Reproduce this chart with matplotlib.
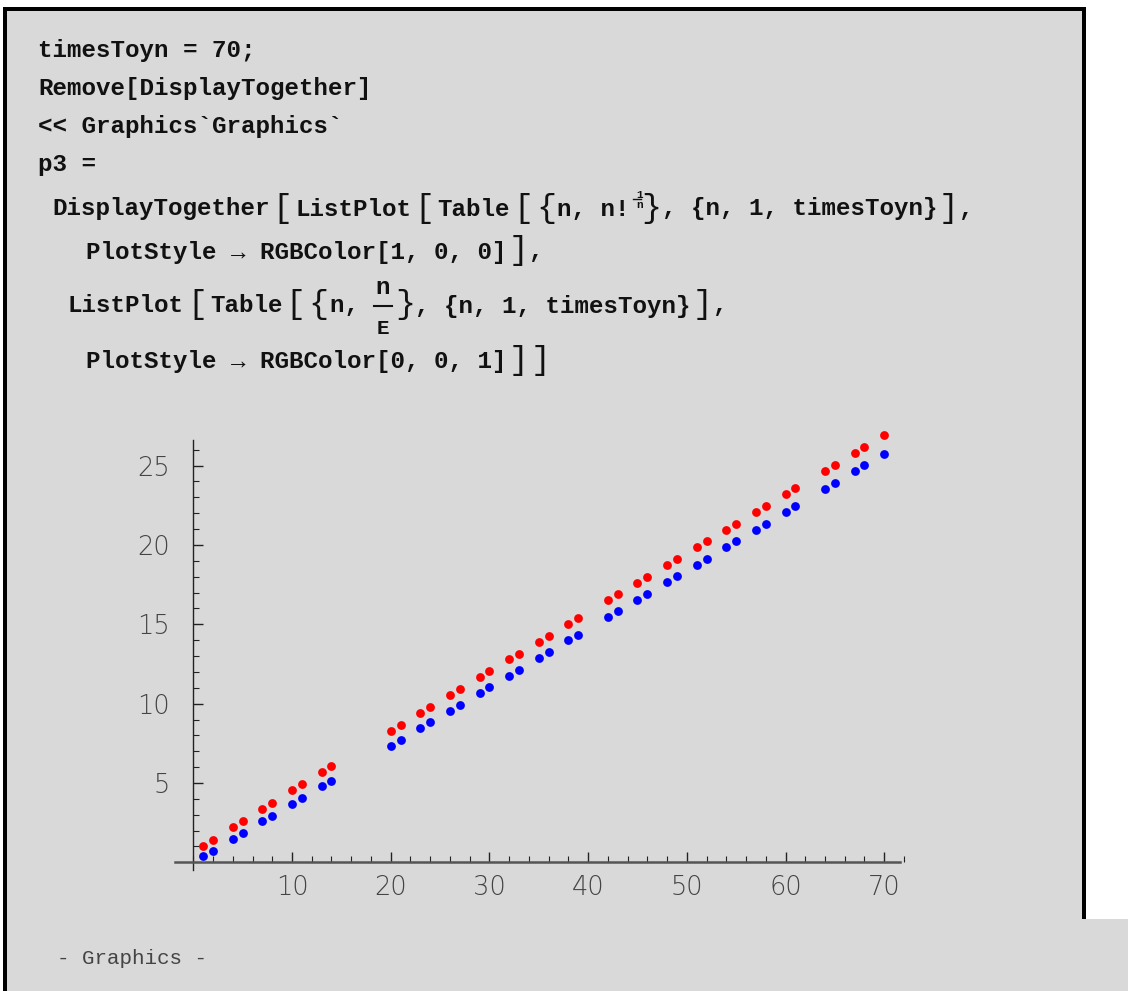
import matplotlib
matplotlib.use('Agg')
import matplotlib.pyplot as plt
from matplotlib.patches import Rectangle
from matplotlib.lines import Line2D
from matplotlib.ticker import FixedLocator, MultipleLocator

# ---------------- data ----------------
n_vals = [1, 2, 4, 5, 7, 8, 10, 11, 13, 14, 20, 21, 23, 24, 26, 27, 29, 30, 32, 33,
          35, 36, 38, 39, 42, 43, 45, 46, 48, 49, 51, 52, 54, 55, 57, 58, 60, 61,
          64, 65, 67, 68, 70]
red_vals = [1.00, 1.41, 2.21, 2.61, 3.38, 3.76, 4.53, 4.91, 5.67, 6.05,
            8.30, 8.68, 9.43, 9.80, 10.55, 10.93, 11.67, 12.05, 12.79, 13.16,
            13.91, 14.28, 15.03, 15.40, 16.51, 16.89, 17.63, 18.00, 18.74, 19.11,
            19.86, 20.23, 20.97, 21.34, 22.08, 22.45, 23.19, 23.56, 24.67, 25.04,
            25.78, 26.16, 26.90]
blue_vals = [0.37, 0.74, 1.47, 1.84, 2.58, 2.94, 3.68, 4.05, 4.78, 5.15,
             7.36, 7.73, 8.46, 8.83, 9.56, 9.93, 10.67, 11.04, 11.77, 12.14,
             12.88, 13.24, 13.98, 14.35, 15.45, 15.82, 16.55, 16.92, 17.66, 18.03,
             18.76, 19.13, 19.87, 20.23, 20.97, 21.34, 22.07, 22.44, 23.54, 23.91,
             24.65, 25.02, 25.75]
x_ticks = [10, 20, 30, 40, 50, 60, 70]
y_ticks = [5, 10, 15, 20, 25]

W, H = 1128, 991
GRAY = '#d9d9d9'
INK = '#111111'
CODE = ['Liberation Mono', 'DejaVu Sans Mono']

fig = plt.figure(figsize=(W / 100, H / 100), dpi=100, facecolor='white')


def rect(x0, y0, x1, y1, color):
    fig.patches.append(Rectangle((x0 / W, 1 - y1 / H), (x1 - x0) / W, (y1 - y0) / H,
                                 transform=fig.transFigure, facecolor=color,
                                 edgecolor='none', zorder=-5))


# notebook cell background and bracket frame
rect(7, 11, 1082, H, GRAY)
rect(1082, 919, W, H, GRAY)
rect(3, 7, 1086, 11, 'black')
rect(3, 7, 7, H, 'black')
rect(1082, 7, 1086, 919, 'black')

renderer = fig.canvas.get_renderer()


def put(x, y, s, size=17.4, weight='bold', color=INK, ha='left', family=CODE):
    t = fig.text(x / W, 1 - y / H, s, fontsize=size, fontweight=weight, color=color,
                 family=family, va='center', ha=ha, zorder=5)
    bb = t.get_window_extent(renderer)
    return bb.x1


def hbar(x0, x1, y, lw=1.5):
    fig.lines.append(Line2D([x0 / W, x1 / W], [1 - y / H, 1 - y / H],
                            transform=fig.transFigure, color=INK, lw=lw))


def big(x, y, ch, size=24, padl=3, padr=3):
    return put(x + padl, y - 1, ch, size=size, weight='normal') + padr


# ---------------- code lines ----------------
put(38, 50, "timesToyn = 70;")
put(38, 88, "Remove[DisplayTogether]")
put(38, 126, "<< Graphics`Graphics`")
put(38, 164, "p3 =")

# line: DisplayTogether[ListPlot[Table[{n, n!^(1/n)}, {n, 1, timesToyn}],
y = 209
x = put(52, y, "DisplayTogether")
x = big(x, y, "[")
x = put(x, y, "ListPlot")
x = big(x, y, "[")
x = put(x, y, "Table")
x = big(x, y, "[")
x = big(x, y, "{", padl=0, padr=1)
x = put(x, y, "n, n!")
put(x + 7, y - 14, "1", size=8)
hbar(x + 3, x + 11, y - 10, lw=1)
put(x + 7, y - 4, "n", size=8)
x = big(x + 12, y, "}", padl=0, padr=0)
x = put(x, y, ", {n, 1, timesToyn}")
x = big(x, y, "]", padl=2, padr=0)
put(x, y, ",")

# line: PlotStyle -> RGBColor[1, 0, 0]],
y = 252
x = put(86, y, "PlotStyle \u2192 RGBColor[1, 0, 0]")
x = big(x, y, "]", padl=2, padr=0)
put(x, y, ",")

# line: ListPlot[Table[{n, n/E}, {n, 1, timesToyn}],
y = 306
x = put(68, y, "ListPlot")
x = big(x, y, "[")
x = put(x, y, "Table")
x = big(x, y, "[")
x = big(x, y, "{", padl=0, padr=1)
x = put(x, y, "n, ")
put(x + 10, y - 18, "n", ha='center')
hbar(x + 1, x + 19, y)
put(x + 10, y + 22, "E", size=15, ha='center')
x = big(x + 22, y, "}", padl=0, padr=0)
x = put(x, y, ", {n, 1, timesToyn}")
x = big(x, y, "]", padl=2, padr=0)
put(x, y, ",")

# line: PlotStyle -> RGBColor[0, 0, 1]]]
y = 362
x = put(86, y, "PlotStyle \u2192 RGBColor[0, 0, 1]")
x = big(x, y, "]", padl=2, padr=0)
x = big(x, y, "]", padl=2, padr=0)

put(57, 958, "- Graphics -", size=15, weight='normal', color='#444444')

# ---------------- plot ----------------
ax = fig.add_axes([0.1543, 0.1146, 0.6471, 0.4460], zorder=3)
ax.patch.set_visible(False)
ax.set_xlim(-1.95, 72)
ax.set_ylim(-0.95, 26.9)

ax.scatter(n_vals, red_vals, s=40, color='#ff0000', linewidths=0, zorder=3, clip_on=False)
ax.scatter(n_vals, blue_vals, s=40, color='#0000ff', linewidths=0, zorder=3, clip_on=False)

for side in ('top', 'right'):
    ax.spines[side].set_visible(False)
ax.spines['left'].set_position(('data', 0))
ax.spines['bottom'].set_position(('data', 0))
ax.spines['left'].set_bounds(-0.5, 26.6)
ax.spines['bottom'].set_bounds(-1.9, 71.6)
ax.spines['left'].set_color('#222222')
ax.spines['left'].set_linewidth(1.0)
ax.spines['bottom'].set_color('#555555')
ax.spines['bottom'].set_linewidth(1.8)

ax.xaxis.set_major_locator(FixedLocator(x_ticks))
ax.yaxis.set_major_locator(FixedLocator(y_ticks))
ax.xaxis.set_minor_locator(MultipleLocator(2))
ax.yaxis.set_minor_locator(MultipleLocator(1))
ax.set_xticklabels([str(v) for v in x_ticks])
ax.set_yticklabels([str(v) for v in y_ticks])

ax.tick_params(which='major', direction='in', length=7, width=1, color='#222222',
               labelsize=18.5, labelcolor='#444444')
ax.tick_params(which='minor', direction='in', length=4, width=0.8, color='#222222')
ax.tick_params(axis='x', which='major', pad=9)
ax.tick_params(axis='y', which='major', pad=17)
for lab in ax.get_xticklabels() + ax.get_yticklabels():
    lab.set_fontweight('light')

fig.savefig('out.png', dpi=100, facecolor='white')
